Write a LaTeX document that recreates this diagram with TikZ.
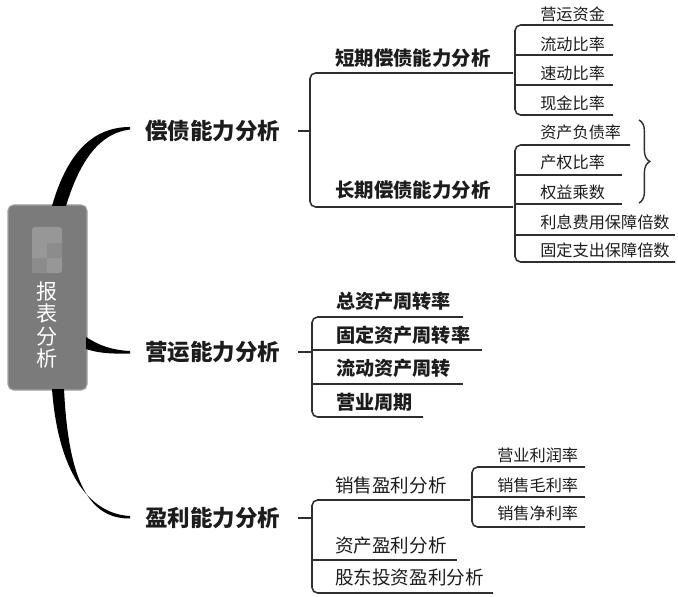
\documentclass[tikz,border=0pt]{standalone}
\usepackage{fontspec}
\setmainfont{Noto Sans CJK SC}
\usetikzlibrary{decorations.pathreplacing}

\definecolor{inkc}{HTML}{1C1C1C}
\definecolor{linec}{HTML}{2E2E2E}
\definecolor{rootc}{HTML}{7B7B7B}
\definecolor{rootedge}{HTML}{A0A0A0}
\definecolor{blurc}{HTML}{979797}
\definecolor{blurd}{HTML}{8C8C8C}

\begin{document}
\begin{tikzpicture}[
        x=0.025cm, y=-0.025cm,
        every node/.style={text=inkc, inner sep=0pt, anchor=west},
        trunk/.style={fill=black},
        branch/.style={draw=linec, line width=1.1pt, rounded corners=4pt},
        mainlbl/.style={font=\fontsize{16}{18}\selectfont\bfseries},
        sublbl/.style={font=\fontsize{13.8}{16}\selectfont\bfseries},
        oplbl/.style={font=\fontsize{13.6}{16}\selectfont\bfseries},
        midlbl/.style={font=\fontsize{13.2}{16}\selectfont},
        leaflbl/.style={font=\fontsize{11.5}{13}\selectfont},
        brace/.style={draw=linec, line width=1pt,
            decorate, decoration={brace, amplitude=0.27cm}}
    ]
    \useasboundingbox (0,0) rectangle (678,597);

    % =====================================================
    % Root box
    % =====================================================
    \draw[rounded corners=4pt, fill=rootc, draw=rootedge, line width=0.8pt]
        (8,205) rectangle (87,390);
    \fill[blurc, rounded corners=2pt] (32,227) rectangle (62,273);
    \fill[blurd] (47,243) rectangle (62,258);
    \fill[blurd] (32,258) rectangle (47,273);
    \node[anchor=center, align=center, text=white,
          font=\fontsize{15}{15.8}\selectfont] (root) at (47,325)
        {报\\表\\分\\析};

    % Tapered trunks to the three main branches
    \fill[trunk] (52,206) .. controls (68,150) and (95,127) .. (130,127)
        -- (130,129.5) .. controls (100,133) and (80,160) .. (66,206) -- cycle;
    \fill[trunk] (86,337) .. controls (100,346) and (112,350) .. (130,351)
        -- (130,353.5) .. controls (110,354) and (98,353) .. (86,349) -- cycle;
    \fill[trunk] (52,389) .. controls (58,470) and (88,514) .. (130,516)
        -- (130,518.5) .. controls (84,519) and (68,470) .. (64,389) -- cycle;

    % =====================================================
    % Top: solvency
    % =====================================================
    \node[mainlbl] (cz) at (145,131) {偿债能力分析};
    \draw[branch] (298,131) -- (310,131);
    \draw[branch] (513,73) -- (310,73) -- (310,207) -- (513,207);

    \node[sublbl] (dq) at (335,58) {短期偿债能力分析};
    \node[sublbl] (cq) at (335,190) {长期偿债能力分析};

    % Short-term items
    \draw[branch] (613,25) -- (515,25) -- (515,115) -- (613,115);
    \draw[branch] (515,55) -- (613,55);
    \draw[branch] (515,85) -- (613,85);
    \node[leaflbl] (yyzj) at (540,14) {营运资金};
    \node[leaflbl] (ldbl) at (540,44) {流动比率};
    \node[leaflbl] (sdbl) at (540,73) {速动比率};
    \node[leaflbl] (xjbl) at (540,103) {现金比率};

    % Long-term items
    \draw[branch] (630,145) -- (515,145) -- (515,262) -- (675,262);
    \draw[branch] (515,175) -- (622,175);
    \draw[branch] (515,204) -- (622,204);
    \draw[branch] (515,235) -- (675,235);
    \node[leaflbl] (zcfz) at (540,132) {资产负债率};
    \node[leaflbl] (cqbl) at (540,162) {产权比率};
    \node[leaflbl] (qycs) at (540,192) {权益乘数};
    \node[leaflbl] (lxfy) at (540,222) {利息费用保障倍数};
    \node[leaflbl] (gdzc) at (540,250) {固定支出保障倍数};

    \draw[brace] (639,120) -- (639,203);

    % =====================================================
    % Middle: operating
    % =====================================================
    \node[mainlbl] (yy) at (145,352) {营运能力分析};
    \draw[branch] (298,352) -- (312,352);
    \draw[branch] (463,317) -- (312,317) -- (312,417) -- (423,417);
    \draw[branch] (312,350) -- (482,350);
    \draw[branch] (312,384) -- (463,384);
    \node[oplbl] (zzc) at (336,301) {总资产周转率};
    \node[oplbl] (gdz) at (336,335) {固定资产周转率};
    \node[oplbl] (ldz) at (336,368) {流动资产周转};
    \node[oplbl] (yyzq) at (336,402) {营业周期};

    % =====================================================
    % Bottom: profitability
    % =====================================================
    \node[mainlbl] (yl) at (145,518) {盈利能力分析};
    \draw[branch] (298,518) -- (312,518);
    \draw[branch] (470,500) -- (312,500) -- (312,593) -- (493,593);
    \draw[branch] (312,560) -- (457,560);
    \node[midlbl] (xs) at (335,485) {销售盈利分析};
    \node[midlbl] (zc) at (335,545) {资产盈利分析};
    \node[midlbl] (gd) at (335,577) {股东投资盈利分析};

    \draw[branch] (585,467) -- (472,467) -- (472,527) -- (585,527);
    \draw[branch] (472,497) -- (585,497);
    \node[leaflbl] (yylr) at (497,455) {营业利润率};
    \node[leaflbl] (xsml) at (497,485) {销售毛利率};
    \node[leaflbl] (xsjl) at (497,513) {销售净利率};

\end{tikzpicture}
\end{document}
